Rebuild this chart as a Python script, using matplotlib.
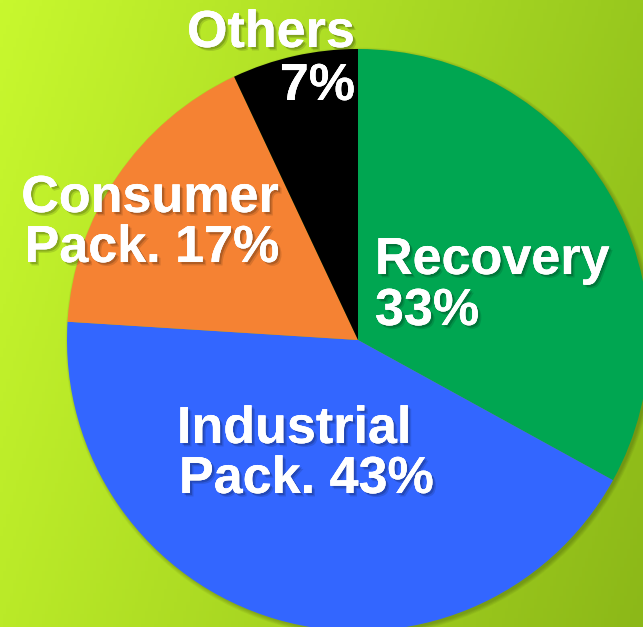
import matplotlib
matplotlib.use('Agg')
import matplotlib.pyplot as plt
import matplotlib.patheffects as pe
import numpy as np

# Share of each segment, clockwise from 12 o'clock
segments = ['Recovery', 'Industrial Pack.', 'Consumer Pack.', 'Others']
shares = [33, 43, 17, 7]
colors = ['#00A651', '#3366FF', '#F58233', '#000000']

W, H = 643, 627
fig = plt.figure(figsize=(W / 100, H / 100), dpi=100)
ax = fig.add_axes([0, 0, 1, 1])

# lime background, darker toward the right and bottom
tl = np.array([200, 248, 46]) / 255
tr = np.array([152, 200, 30]) / 255
bl = np.array([186, 234, 40]) / 255
br = np.array([140, 184, 24]) / 255
u = np.linspace(0, 1, 200)[None, :, None]
v = np.linspace(0, 1, 200)[:, None, None]
grad = (1 - v) * ((1 - u) * tl + u * tr) + v * ((1 - u) * bl + u * br)
ax.imshow(grad, extent=[0, W, 0, H], origin='upper', zorder=0, aspect='auto')

cx, cy, r = 358, H - 340, 291

# soft drop shadow under the pie, pushed a little to the lower right
for k in range(6):
    ax.add_patch(plt.Circle((cx + 2, cy - 2), r + k * 0.7,
                            color='black', alpha=0.035, lw=0, zorder=1))

ax.pie(shares, colors=colors, startangle=90, counterclock=False,
       center=(cx, cy), radius=r, frame=True,
       wedgeprops=dict(linewidth=0, zorder=2))
ax.set_xlim(0, W)
ax.set_ylim(0, H)
ax.set_aspect('auto')
ax.axis('off')

shadow = [pe.withSimplePatchShadow(offset=(2.5, -2.5), shadow_rgbFace='black', alpha=0.12),
          pe.withSimplePatchShadow(offset=(1.5, -1.5), shadow_rgbFace='black', alpha=0.18),
          pe.Normal()]
label_kw = dict(color='white', fontsize=37.5, fontweight='bold',
                family='Liberation Sans', va='baseline',
                path_effects=shadow, zorder=5)

ax.text(355, H - 47, segments[3], ha='right', **label_kw)
ax.text(355, H - 100, f'{shares[3]}%', ha='right', **label_kw)

ax.text(150, H - 212, 'Consumer', ha='center', **label_kw)
ax.text(152, H - 262, f'Pack. {shares[2]}%', ha='center', **label_kw)

ax.text(375, H - 274, segments[0], ha='left', **label_kw)
ax.text(375, H - 325, f'{shares[0]}%', ha='left', **label_kw)

ax.text(177, H - 443, 'Industrial', ha='left', **label_kw)
ax.text(179, H - 493, f'Pack. {shares[1]}%', ha='left', **label_kw)

fig.savefig('out.png', dpi=100)
